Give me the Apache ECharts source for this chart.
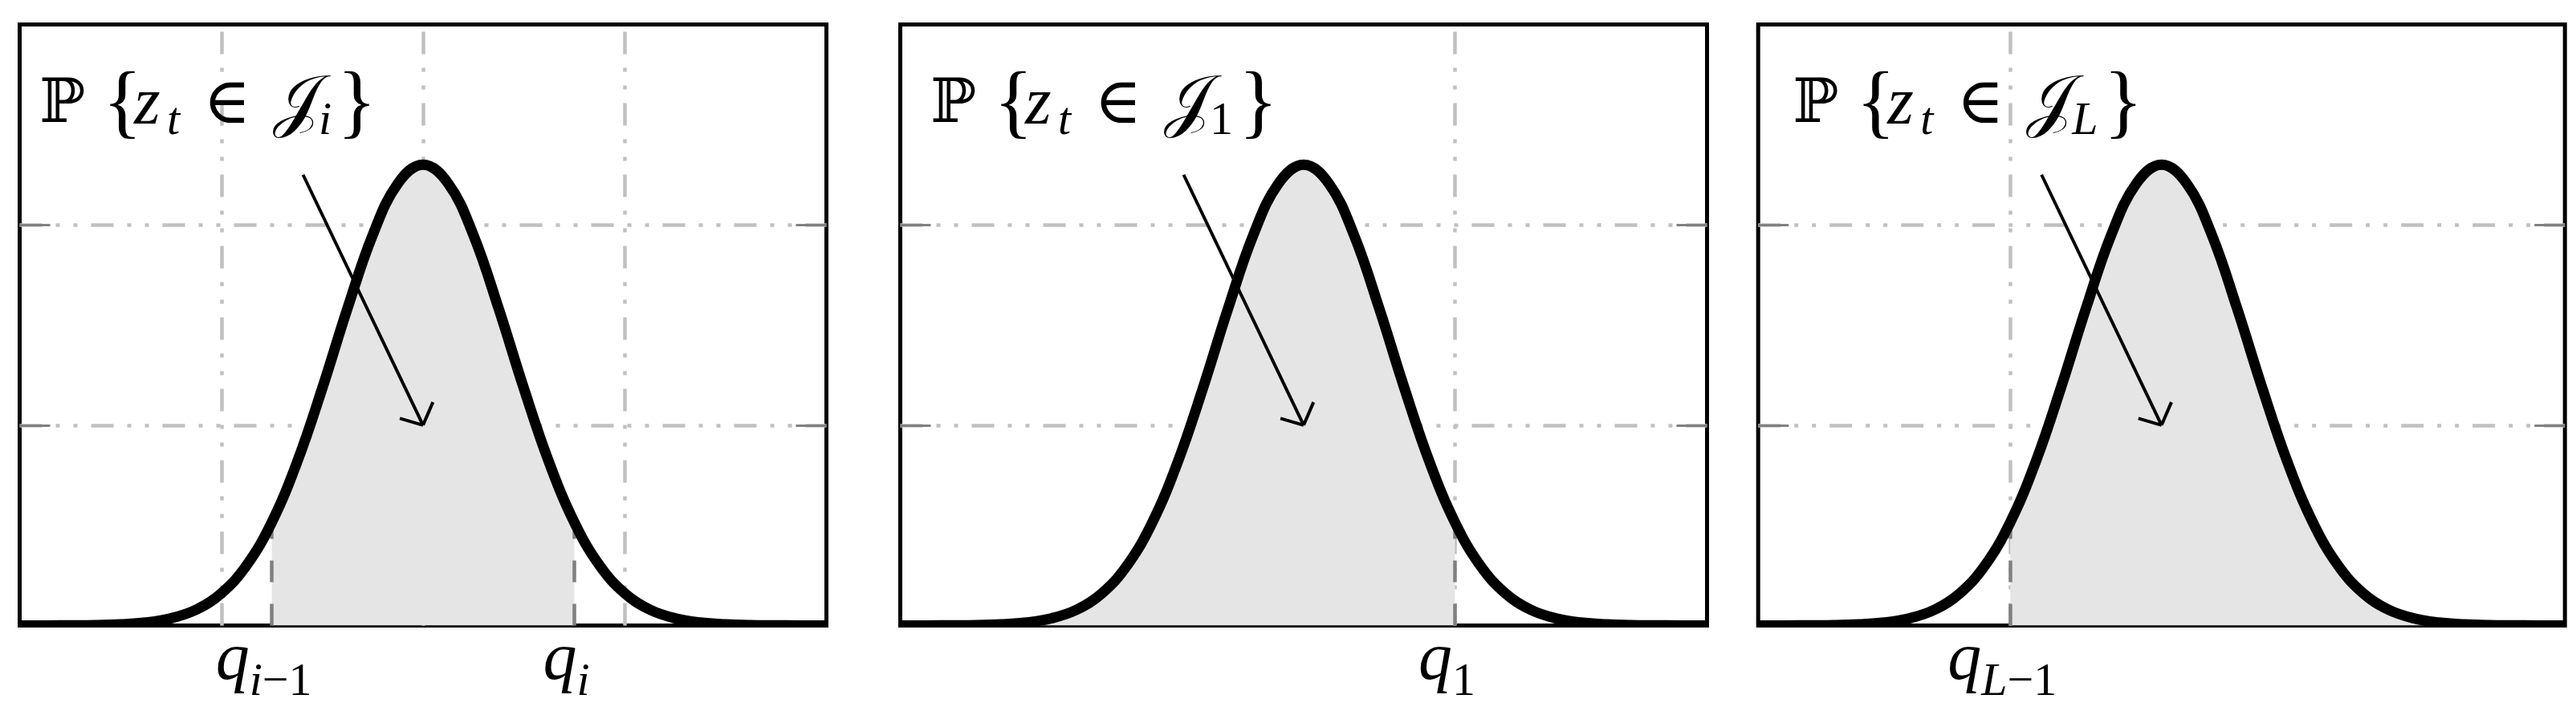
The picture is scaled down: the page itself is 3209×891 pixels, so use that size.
<!DOCTYPE html>
<html>
<head>
<meta charset="utf-8">
<script src="https://cdn.jsdelivr.net/npm/echarts@6/dist/echarts.min.js"></script>
<style>
html,body{margin:0;padding:0;background:#fff;}
#c{width:3209px;height:891px;}
</style>
</head>
<body>
<div id="c"></div>
<script>
// ---------- data ----------
const xValues = [-4,-3.75,-3.5,-3.25,-3,-2.75,-2.5,-2.25,-2,-1.75,-1.5,-1.25,-1,-0.75,-0.5,-0.25,0,
                 0.25,0.5,0.75,1,1.25,1.5,1.75,2,2.25,2.5,2.75,3,3.25,3.5,3.75,4];
const densityValues = [0,0,0.001,0.002,0.006,0.015,0.036,0.079,0.161,0.300,0.515,0.814,1.183,1.582,1.948,2.206,2.300,
                       2.206,1.948,1.582,1.183,0.814,0.515,0.300,0.161,0.079,0.036,0.015,0.006,0.002,0.001,0,0];
const yGridValues = [1, 2];
const panelVGrid = [[-2, 0, 2], [1.5], [-1.5]];
const panelXTicks = [[-2, 0, 2], [1.5], [-1.5]];
const panelLabelValues = [[-1.5, 1.5], [1.5], [-1.5]];
const panelLabelSubs = [['i−1', 'i'], ['1'], ['L−1']];
const panelShaded = [[-1.5, 1.5], [-4, 1.5], [-1.5, 4]];
const panelRegionSub = ['i', '1', 'L'];
const arrowStart = [-1.19, 2.25];
const arrowEnd = [0, 1];
const arrowBarbs = [[-0.23, 1.034], [0.098, 1.115]];

// ---------- layout / style ----------
const W = 1005, H = 749, TOP = 30.5;
const panelLeft = [24.5, 1121.5, 2190.2];
const labelOffset = [24.5, 37.5, 43];
const gridDash = [28, 17, 5, 17, 5, 17];
const GRID_COLOR = '#c0c0c0';
const DARK = '#808080';
const FILL = '#e5e5e5';
const SERIF = 'Liberation Serif';
const SMOOTH = 0.4;

const curvePoints = xValues.map((x, k) => [x, densityValues[k]]);
const valueAt = x => densityValues[xValues.indexOf(x)];

const tickRich = {
  m: {fontFamily: SERIF, fontStyle: 'italic', fontSize: 84, lineHeight: 90, color: '#000'},
  s: {fontFamily: SERIF, fontStyle: 'italic', fontSize: 58, lineHeight: 90, padding: [54, 0, 0, 0], color: '#000'},
  r: {fontFamily: SERIF, fontSize: 58, lineHeight: 90, padding: [54, 0, 0, 0], color: '#000'}
};
function tickText(sub) {
  const m = sub.match(/^([A-Za-z]*)(.*)$/);
  let s = '{m|q}';
  if (m[1]) s += '{s|' + m[1] + '}';
  if (m[2]) s += '{r|' + m[2] + '}';
  return s;
}
const labelRich = {
  bb: {fontFamily: 'DejaVu Serif', fontSize: 76, width: 79, lineHeight: 120},
  lb: {fontFamily: SERIF, fontSize: 102, width: 39, lineHeight: 120},
  v:  {fontFamily: SERIF, fontStyle: 'italic', fontSize: 84, width: 41, lineHeight: 120},
  t:  {fontFamily: SERIF, fontStyle: 'italic', fontSize: 58, width: 45, lineHeight: 120, padding: [40, 0, 0, 0]},
  op: {fontFamily: 'DejaVu Serif', fontSize: 80, width: 87, lineHeight: 120},
  J:  {fontFamily: 'DejaVu Serif', fontSize: 86, width: 57, lineHeight: 120},
  si: {fontFamily: SERIF, fontStyle: 'italic', fontSize: 58, lineHeight: 120, padding: [40, 7, 0, 0]},
  sr: {fontFamily: SERIF, fontSize: 58, lineHeight: 120, padding: [40, 7, 0, 0]}
};

const grids = [], xAxes = [], yAxes = [], series = [], graphics = [];
panelLeft.forEach((left, i) => {
  grids.push({left: left, top: TOP, width: W, height: H, show: true,
              borderColor: '#000', borderWidth: 5, backgroundColor: 'rgba(0,0,0,0)'});
  const subs = panelLabelSubs[i];
  const vals = panelLabelValues[i];
  xAxes.push({
    gridIndex: i, type: 'value', min: -4, max: 4,
    axisLine: {show: false, onZero: false},
    axisTick: {show: true, inside: true, length: 27, customValues: panelXTicks[i],
               lineStyle: {color: DARK, width: 3}},
    axisLabel: {show: true, customValues: vals, margin: -1, padding: [0, 20, 0, 0],
                formatter: v => { const k = vals.indexOf(v); return k < 0 ? '' : tickText(subs[k]); },
                rich: tickRich},
    splitLine: {show: false}
  });
  const mkY = (pos, split) => ({
    gridIndex: i, type: 'value', min: 0, max: 3, interval: 1, position: pos,
    axisLine: {show: false, onZero: false}, axisLabel: {show: false},
    axisTick: {show: true, inside: true, length: 38, customValues: yGridValues.slice(),
               lineStyle: {color: DARK, width: 3}},
    splitLine: {show: split, lineStyle: {color: GRID_COLOR, width: 4.5, type: gridDash}}
  });
  yAxes.push(mkY('left', true));
  yAxes.push(mkY('right', false));

  const [a, b] = panelShaded[i];
  const fillPoints = curvePoints.filter(p => p[0] >= a && p[0] <= b);
  series.push({
    name: 'shaded ' + (i + 1), type: 'line', xAxisIndex: i, yAxisIndex: 2 * i, z: 1,
    data: fillPoints, smooth: SMOOTH, showSymbol: false, symbol: 'none',
    lineStyle: {width: 0}, areaStyle: {color: FILL, opacity: 1},
    markLine: {z: 0.5, silent: true, symbol: 'none', label: {show: false}, animation: false,
      lineStyle: {color: GRID_COLOR, width: 4.5, type: gridDash},
      data: panelVGrid[i].map(v => ({xAxis: v}))}
  });
  const guide = [];
  [a, b].filter(q => Math.abs(q) < 4).forEach(q => {
    guide.push([{coord: [q, 0], lineStyle: {color: DARK, width: 4.5, type: [27, 27]}}, {coord: [q, valueAt(q)]}]);
  });
  guide.push([{coord: arrowStart, lineStyle: {color: '#000', width: 4, type: 'solid'}}, {coord: arrowEnd}]);
  guide.push([{coord: arrowBarbs[0], lineStyle: {color: '#000', width: 4, type: 'solid', curveness: 0.28}}, {coord: arrowEnd}]);
  guide.push([{coord: arrowBarbs[1], lineStyle: {color: '#000', width: 4, type: 'solid', curveness: -0.3}}, {coord: arrowEnd}]);
  series.push({
    name: 'density ' + (i + 1), type: 'line', xAxisIndex: i, yAxisIndex: 2 * i, z: 3,
    data: curvePoints, smooth: SMOOTH, showSymbol: false, symbol: 'none',
    lineStyle: {color: '#000', width: 13},
    markLine: {z: 2, silent: true, symbol: 'none', label: {show: false}, animation: false, data: guide}
  });

  const sub = panelRegionSub[i];
  const subTok = /^[0-9]+$/.test(sub) ? 'sr' : 'si';
  graphics.push({
    type: 'text', x: left + labelOffset[i], y: 72, z: 50, silent: true,
    style: {
      text: '{bb|ℙ}{lb|{}{v|z}{t|t}{op|∈}{J|𝒥}{' + subTok + '|' + sub + '}}',
      fill: '#000', fontFamily: SERIF, fontSize: 102, lineHeight: 120,
      align: 'left', verticalAlign: 'top', rich: labelRich
    }
  });
});
graphics.push({type: 'rect', z: 40, silent: true, shape: {x: 0, y: 782, width: 3209, height: 7}, style: {fill: '#fff'}});

const chart = echarts.init(document.getElementById('c'));
chart.setOption({
  animation: false,
  backgroundColor: '#fff',
  grid: grids, xAxis: xAxes, yAxis: yAxes, series: series,
  graphic: {elements: graphics}
});
</script>
</body>
</html>
